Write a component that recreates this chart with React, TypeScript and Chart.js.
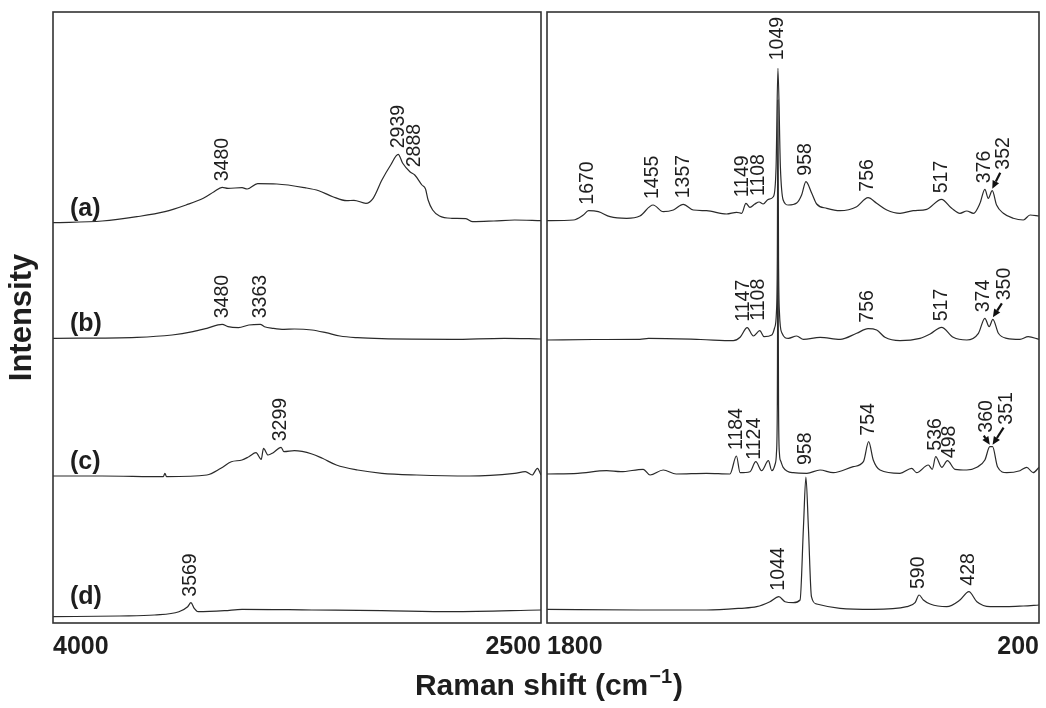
import React, { useEffect, useRef } from 'react';
import { Chart, registerables } from 'chart.js';

Chart.register(...registerables);

// ---------- data (Raman shift, intensity above each trace's baseline, arbitrary units) ----------
const SERIES = ['(a)', '(b)', '(c)', '(d)'];
const OFFSETS = [400, 283, 147, 6];

const TICKS_HIGH = [2500, 4000];
const TICKS_LOW = [200, 1800];

const SPEC_A_HIGH: [number, number][] = [
  [4000, 0.3], [3849, 2], [3742, 6.3], [3656, 11.3], [3591, 18], [3538, 24.7], [3505, 31.3], [3480, 35.7],
  [3462, 34.7], [3419, 35.3], [3403, 34], [3371, 39.3], [3312, 39], [3226, 35.3], [3183, 32.3], [3140, 26.3],
  [3097, 22.3], [3075, 22.7], [3038, 19.7], [3016, 24.7], [2989, 43], [2962, 58], [2939, 68.7], [2925, 59.7],
  [2903, 51.3], [2888, 48], [2866, 38], [2855, 34], [2847, 23], [2833, 13], [2812, 7], [2774, 4.7],
  [2731, 4.3], [2710, 1.3], [2645, 2], [2581, 3], [2500, 2.3],
];
const SPEC_A_LOW: [number, number][] = [
  [1800, 2.3], [1714, 3], [1682, 8], [1665, 12.3], [1633, 11.3], [1595, 6.3], [1541, 4.7], [1498, 7],
  [1455, 18], [1422, 11.3], [1389, 13], [1357, 18.7], [1324, 13], [1281, 12.3], [1216, 9], [1183, 10.7],
  [1167, 9.7], [1153, 19.7], [1140, 15.7], [1124, 19], [1110, 21], [1097, 19], [1080, 23.7], [1064, 26.3],
  [1055, 56], [1049, 154.7], [1041, 56], [1032, 23], [1015, 18], [988, 20], [972, 28], [958, 41.3],
  [939, 29.7], [923, 19], [890, 14.7], [847, 12.3], [793, 16.3], [756, 25.3], [728, 19.7], [695, 13],
  [652, 9.7], [609, 12.3], [565, 13.7], [517, 23.7], [484, 14.7], [457, 9.7], [435, 12], [413, 9.7],
  [392, 19.7], [376, 33.7], [365, 24.7], [352, 32.3], [338, 18], [316, 9.7], [284, 4.7], [251, 3],
  [229, 8], [200, 7],
];

const SPEC_B_HIGH: [number, number][] = [
  [4000, 1.7], [3742, 2.7], [3634, 5], [3570, 8.3], [3527, 11.7], [3480, 15.7], [3462, 13.3], [3430, 12.3],
  [3398, 15], [3363, 15.7], [3350, 13.3], [3323, 11.7], [3290, 10.7], [3258, 11], [3204, 10], [3161, 7.3],
  [3118, 4], [3064, 2.3], [2989, 1.3], [2774, 0.7], [2613, 1.7], [2500, 1],
];
const SPEC_B_LOW: [number, number][] = [
  [1800, 0], [1650, 0.5], [1498, 0.7], [1470, 1.7], [1300, 0.5], [1194, -0.7], [1172, 2.7], [1149, 12.3],
  [1129, 4], [1108, 9.3], [1094, 3.3], [1069, 5], [1060, 12], [1054, 27], [1051, 80], [1049, 240],
  [1047, 80], [1044, 27], [1036, 7], [1015, 1.7], [988, 4], [966, 0.7], [912, 2.7], [847, 0.7],
  [793, 6.7], [756, 11.3], [728, 10], [701, 2.7], [652, -0.7], [587, 1.7], [554, 6], [517, 12.7],
  [479, 2.7], [435, 0], [397, 6.7], [376, 21.7], [362, 13.3], [350, 20.7], [332, 6.7], [305, 1.7],
  [262, 0.7], [235, 3.3], [200, 0.7],
];

const SPEC_C_HIGH: [number, number][] = [
  [4000, 0], [3849, 0], [3661, -0.7], [3656, 2.7], [3651, -0.7], [3527, 1], [3484, 7.7], [3452, 14.3],
  [3419, 16], [3398, 19.3], [3376, 23.3], [3360, 16.7], [3353, 27.7], [3339, 21], [3323, 23.3], [3299, 28.7],
  [3290, 24.3], [3258, 25.3], [3204, 22], [3172, 17.7], [3129, 11], [3064, 6], [2989, 2.7], [2882, 1],
  [2720, 0], [2581, 2.7], [2548, 4.3], [2527, 1], [2511, 7.7], [2500, 1],
];
const SPEC_C_LOW: [number, number][] = [
  [1800, 2], [1700, 2.7], [1606, 5.3], [1560, 4.3], [1487, 6.7], [1465, 1], [1422, 6], [1380, 2],
  [1281, 2.7], [1205, 2], [1184, 20], [1172, 3.3], [1140, 4.3], [1121, 14.3], [1102, 5.3], [1080, 15.3],
  [1069, 5.3], [1058, 12], [1054, 22], [1051, 70], [1049, 246], [1047, 70], [1044, 22], [1040, 15],
  [1032, 8.7], [999, 3.3], [955, 2.7], [912, 6], [869, 3.3], [804, 9.3], [771, 14.3], [754, 34.3],
  [739, 16], [717, 6], [652, 2.7], [614, 7.7], [598, 3.3], [560, 11], [547, 6.7], [536, 19.3],
  [516, 8.7], [498, 15.3], [473, 6.7], [435, 6], [402, 8.7], [376, 16], [360, 29.3], [351, 29.3],
  [335, 9.3], [305, 3.3], [262, 5.3], [240, 8.7], [219, 3.3], [200, 8.7],
];

const SPEC_D_HIGH: [number, number][] = [
  [4000, 0.3], [3796, 1], [3688, 2], [3613, 5.3], [3586, 10.3], [3576, 14.3], [3566, 8.7], [3554, 5.3],
  [3473, 6.3], [3419, 7.7], [3204, 7], [2989, 6.3], [2774, 5.3], [2500, 7],
];
const SPEC_D_LOW: [number, number][] = [
  [1800, 7.7], [1498, 7], [1281, 7], [1172, 8.7], [1118, 10.3], [1075, 15.3], [1046, 20.3], [1026, 15.3],
  [999, 14.3], [977, 17], [966, 90], [958, 140], [950, 90], [940, 20.3], [923, 13], [847, 8.7],
  [739, 7.7], [630, 10.3], [603, 14.3], [590, 22], [576, 17], [554, 13], [500, 10.3], [457, 17],
  [428, 25.3], [402, 15.3], [359, 10.3], [305, 10.3], [251, 11], [200, 12],
];

type Peak = { t: string; at: number; dx?: number; lift?: number; arrow?: boolean };

const PEAKS_A_HIGH: Peak[] = [{ t: '3480', at: 3480 }, { t: '2939', at: 2939 }, { t: '2888', at: 2888 }];
const PEAKS_A_LOW: Peak[] = [
  { t: '1670', at: 1668 }, { t: '1455', at: 1455 }, { t: '1357', at: 1357 },
  { t: '1149', at: 1149, dx: -5 }, { t: '1108', at: 1108, dx: -1.5 }, { t: '1049', at: 1049, lift: 2 },
  { t: '958', at: 958 }, { t: '756', at: 756 }, { t: '517', at: 517 }, { t: '376', at: 376 },
  { t: '352', at: 352, dx: 11, lift: 15, arrow: true },
];
const PEAKS_B_HIGH: Peak[] = [{ t: '3480', at: 3480 }, { t: '3363', at: 3363 }];
const PEAKS_B_LOW: Peak[] = [
  { t: '1147', at: 1147, dx: -4.5 }, { t: '1108', at: 1108, dx: -1.5, lift: 4 },
  { t: '756', at: 756 }, { t: '517', at: 517 }, { t: '374', at: 374, dx: -2 },
  { t: '350', at: 350, dx: 12, lift: 13, arrow: true },
];
const PEAKS_C_HIGH: Peak[] = [{ t: '3299', at: 3299 }];
const PEAKS_C_LOW: Peak[] = [
  { t: '1184', at: 1184 }, { t: '1124', at: 1124, lift: -4 }, { t: '754', at: 754 },
  { t: '536', at: 536 }, { t: '498', at: 498, dx: 2.5, lift: -3.5 },
  { t: '360', at: 360, dx: -3, lift: 8, arrow: true }, { t: '351', at: 351, dx: 14, lift: 16, arrow: true },
];
const PEAKS_D_HIGH: Peak[] = [{ t: '3569', at: 3576 }];
const PEAKS_D_LOW: Peak[] = [
  { t: '1044', at: 1046 }, { t: '958', at: 958, lift: 6 }, { t: '590', at: 590 }, { t: '428', at: 428 },
];

const X_TITLE_MAIN = 'Raman shift (cm';
const X_TITLE_SUP = '\u22121';
const X_TITLE_END = ')';
const Y_TITLE = 'Intensity';

// ---------- styling ----------
const FONT = "'Liberation Sans', Arial, Helvetica, sans-serif";
const INK = '#1e1e1e';
const LINE = '#2a2a2a';

const TRACES = [
  { high: SPEC_A_HIGH, low: SPEC_A_LOW, pHigh: PEAKS_A_HIGH, pLow: PEAKS_A_LOW, rise: 14 },
  { high: SPEC_B_HIGH, low: SPEC_B_LOW, pHigh: PEAKS_B_HIGH, pLow: PEAKS_B_LOW, rise: 16 },
  { high: SPEC_C_HIGH, low: SPEC_C_LOW, pHigh: PEAKS_C_HIGH, pLow: PEAKS_C_LOW, rise: 14 },
  { high: SPEC_D_HIGH, low: SPEC_D_LOW, pHigh: PEAKS_D_HIGH, pLow: PEAKS_D_LOW, rise: 20 },
];

function valueAt(spec: [number, number][], x: number): number {
  for (let i = 0; i < spec.length - 1; i++) {
    const [x0, y0] = spec[i];
    const [x1, y1] = spec[i + 1];
    if ((x <= x0 && x >= x1) || (x >= x0 && x <= x1)) {
      if (x0 === x1) return Math.max(y0, y1);
      return y0 + ((x - x0) / (x1 - x0)) * (y1 - y0);
    }
  }
  return spec[spec.length - 1][1];
}
function peakTop(spec: [number, number][], x: number): number {
  let m = -Infinity;
  for (let k = -8; k <= 8; k += 1) m = Math.max(m, valueAt(spec, x + k));
  return m;
}

function drawArrow(ctx: CanvasRenderingContext2D, x0: number, y0: number, x1: number, y1: number) {
  const ang = Math.atan2(y1 - y0, x1 - x0);
  const hl = 8, hw = 3.6;
  const bx = x1 - hl * Math.cos(ang), by = y1 - hl * Math.sin(ang);
  ctx.save();
  ctx.strokeStyle = '#111';
  ctx.fillStyle = '#111';
  ctx.lineWidth = 2.2;
  ctx.beginPath();
  ctx.moveTo(x0, y0);
  ctx.lineTo(bx, by);
  ctx.stroke();
  ctx.beginPath();
  ctx.moveTo(x1, y1);
  ctx.lineTo(bx + hw * Math.sin(ang), by - hw * Math.cos(ang));
  ctx.lineTo(bx - hw * Math.sin(ang), by + hw * Math.cos(ang));
  ctx.closePath();
  ctx.fill();
  ctx.restore();
}

const decorPlugin = {
  id: 'decor',
  afterDraw(chart: any) {
    const ctx: CanvasRenderingContext2D = chart.ctx;
    const { top, bottom } = chart.chartArea;
    const xH = chart.scales.xH, xL = chart.scales.xL, ys = chart.scales.y;

    // panel frames
    ctx.save();
    ctx.strokeStyle = '#333';
    ctx.lineWidth = 1.6;
    ctx.strokeRect(xH.left, top, xH.right - xH.left, bottom - top);
    ctx.strokeRect(xL.left, top, xL.right - xL.left, bottom - top);
    ctx.restore();

    // peak labels
    ctx.save();
    ctx.fillStyle = INK;
    ctx.font = `19.5px ${FONT}`;
    TRACES.forEach((tr, i) => {
      const off = OFFSETS[i];
      const groups: [any, [number, number][], Peak[]][] = [[xH, tr.high, tr.pHigh], [xL, tr.low, tr.pLow]];
      groups.forEach(([xs, spec, peaks]) => {
        peaks.forEach((p) => {
          const px = xs.getPixelForValue(p.at);
          const py = ys.getPixelForValue(off + peakTop(spec, p.at));
          const lx = px + (p.dx ?? 0);
          const ly = py - 6 - (p.lift ?? 0);
          ctx.save();
          ctx.translate(lx, ly);
          ctx.rotate(-Math.PI / 2);
          ctx.textAlign = 'left';
          ctx.textBaseline = 'middle';
          ctx.fillText(p.t, 0, 0);
          ctx.restore();
          if (p.arrow) drawArrow(ctx, lx - 3, ly + 3, px, py - 2);
        });
      });
      // series label
      ctx.save();
      ctx.font = `bold 25px ${FONT}`;
      ctx.textAlign = 'left';
      ctx.textBaseline = 'middle';
      ctx.fillText(SERIES[i], xH.left + 17, ys.getPixelForValue(off) - tr.rise);
      ctx.restore();
    });
    ctx.restore();

    // x axis title with superscript
    ctx.save();
    ctx.fillStyle = INK;
    ctx.textBaseline = 'alphabetic';
    ctx.textAlign = 'left';
    const big = `bold 30px ${FONT}`, small = `bold 20px ${FONT}`;
    ctx.font = big;
    const w1 = ctx.measureText(X_TITLE_MAIN).width;
    const w3 = ctx.measureText(X_TITLE_END).width;
    ctx.font = small;
    const w2 = ctx.measureText(X_TITLE_SUP).width;
    const cx = (xH.right + xL.left) / 2 + 4;
    const base = bottom + 72;
    let x = cx - (w1 + w2 + w3) / 2;
    ctx.font = big;
    ctx.fillText(X_TITLE_MAIN, x, base);
    x += w1;
    ctx.font = small;
    ctx.fillText(X_TITLE_SUP, x + 1, base - 12);
    x += w2 + 2;
    ctx.font = big;
    ctx.fillText(X_TITLE_END, x, base);
    ctx.restore();
  },
};

export default function App() {
  const ref = useRef<HTMLCanvasElement>(null);
  useEffect(() => {
    const datasets: any[] = [];
    TRACES.forEach((tr, i) => {
      const off = OFFSETS[i];
      datasets.push({
        label: SERIES[i] + ' high',
        data: tr.high.map(([x, y]) => ({ x, y: off + y })),
        xAxisID: 'xH', yAxisID: 'y',
      });
      datasets.push({
        label: SERIES[i] + ' low',
        data: tr.low.map(([x, y]) => ({ x, y: off + y })),
        xAxisID: 'xL', yAxisID: 'y',
      });
    });
    datasets.forEach((d) => {
      Object.assign(d, {
        borderColor: LINE, borderWidth: 1.2, pointRadius: 0, fill: false,
        cubicInterpolationMode: 'monotone',
      });
    });
    const tickFont = { family: FONT, size: 25, weight: 'bold' as const };
    const xCommon = (ticks: number[]) => ({
      type: 'linear' as const,
      position: 'bottom' as const,
      stack: 'x',
      reverse: true,
      grid: { display: false, drawTicks: false },
      border: { display: false },
      afterBuildTicks: (s: any) => { s.ticks = ticks.map((v) => ({ value: v })); },
      afterFit: (s: any) => { s.height = 85; },
      ticks: {
        align: 'inner' as const, autoSkip: false, maxRotation: 0, minRotation: 0, padding: 9,
        color: INK, font: tickFont, callback: (v: any) => String(v),
      },
    });
    const chart = new Chart(ref.current!, {
      type: 'line',
      data: { datasets },
      options: {
        animation: false,
        responsive: true,
        maintainAspectRatio: false,
        events: [],
        layout: { padding: { left: 0, right: 7, top: 12, bottom: 0 } },
        plugins: { legend: { display: false }, tooltip: { enabled: false } },
        scales: {
          y: {
            type: 'linear', position: 'left', min: 0, max: 611,
            ticks: { display: false }, grid: { display: false, drawTicks: false }, border: { display: false },
            title: { display: true, text: Y_TITLE, color: INK, font: { family: FONT, size: 31, weight: 'bold' }, padding: { top: 4, bottom: 0 } },
            afterFit: (s: any) => { s.width = 53; },
          },
          xH: { ...xCommon(TICKS_HIGH), min: 2500, max: 4000, stackWeight: 488 },
          xGap: {
            type: 'linear', position: 'bottom', stack: 'x', stackWeight: 6,
            ticks: { display: false }, grid: { display: false, drawTicks: false }, border: { display: false },
            afterFit: (s: any) => { s.height = 85; },
          },
          xL: { ...xCommon(TICKS_LOW), min: 200, max: 1800, stackWeight: 492 },
        } as any,
      },
      plugins: [decorPlugin],
    });
    return () => chart.destroy();
  }, []);
  return (
    <div style={{ position: 'absolute', left: 0, top: 0, width: 1046, height: 708, background: '#fff' }}>
      <canvas ref={ref} />
    </div>
  );
}
